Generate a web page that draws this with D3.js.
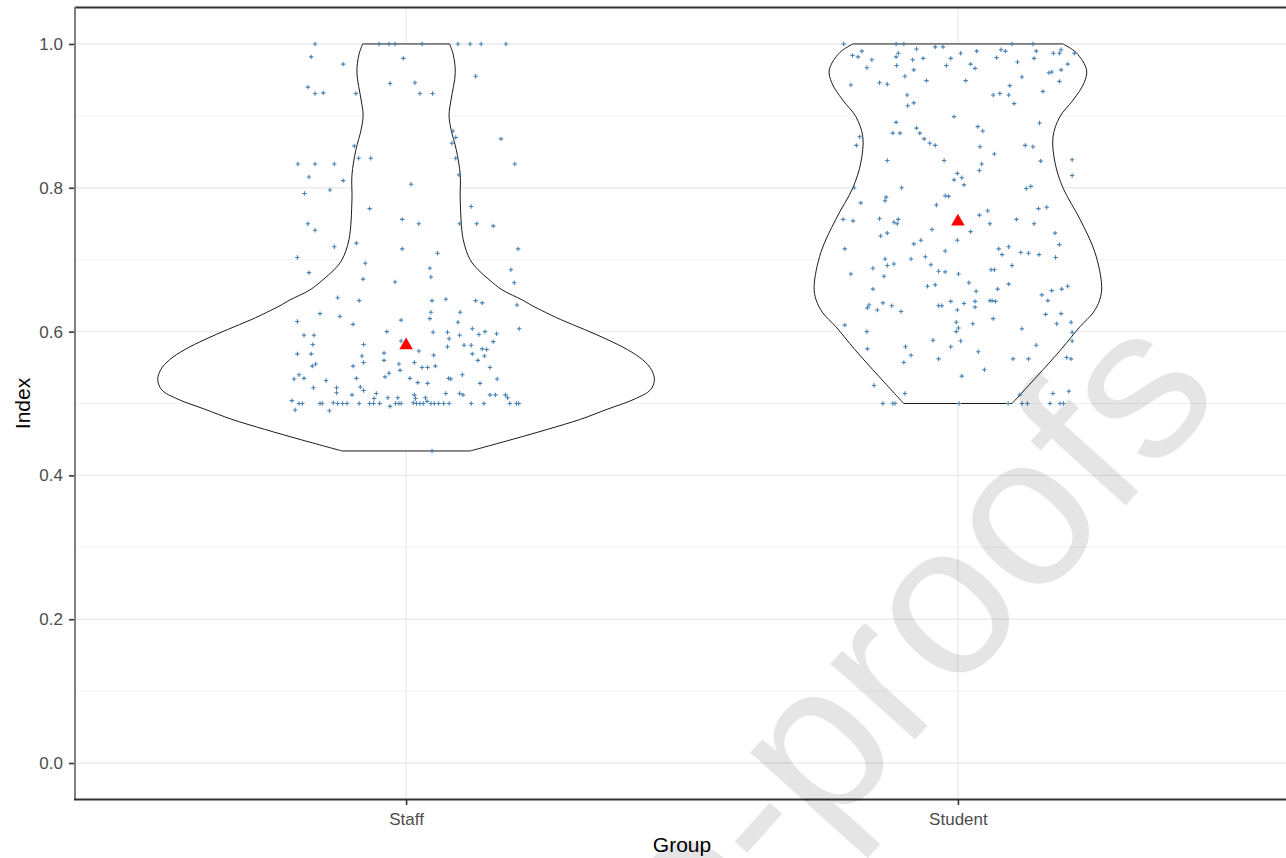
<!DOCTYPE html>
<html lang="en">

<head>
    <meta charset="UTF-8">
    <title>Violin plot</title>
    <script src="https://d3js.org/d3.v7.min.js"></script>
    <style>
        body {
            margin: 0;
            background: #fff;
        }

        svg {
            display: block;
            font-family: "Liberation Sans", Arial, sans-serif;
        }
    </style>
</head>

<body>
    <svg width="1286" height="858"></svg>

    <script>
        // groups on the x axis
        var groups = ["Staff", "Student"];
        var yTicks = [0, 0.2, 0.4, 0.6, 0.8, 1.0];
        var yMinor = [0.1, 0.3, 0.5, 0.7, 0.9];

        // mean of each group (red triangles)
        var groupMeans = [0.581, 0.753];

        // violin outline: [index, relative half width]
        var staffViolin = [
            [0.434, 0.258], [0.450, 0.427], [0.464, 0.569], [0.478, 0.702], [0.492, 0.810],
            [0.506, 0.919], [0.519, 0.984], [0.533, 1.000], [0.547, 0.988], [0.561, 0.952],
            [0.575, 0.891], [0.589, 0.810], [0.603, 0.718], [0.617, 0.621], [0.636, 0.508],
            [0.644, 0.468], [0.658, 0.387], [0.672, 0.335], [0.686, 0.290], [0.700, 0.258],
            [0.728, 0.230], [0.783, 0.218], [0.818, 0.218], [0.853, 0.202], [0.881, 0.181],
            [0.901, 0.173], [0.922, 0.181], [0.960, 0.198], [0.985, 0.190], [1.000, 0.175]
        ];
        var studentViolin = [
            [0.500, 0.218], [0.538, 0.319], [0.575, 0.415], [0.607, 0.492], [0.626, 0.544],
            [0.644, 0.571], [0.663, 0.579], [0.710, 0.552], [0.756, 0.492], [0.800, 0.423],
            [0.835, 0.391], [0.871, 0.383], [0.899, 0.411], [0.922, 0.464], [0.946, 0.508],
            [0.964, 0.518], [0.988, 0.476], [1.000, 0.423]
        ];

        // jittered observations: [jitter offset (in steps), index]
        var staffPoints = [
            [-0.165, 1.0], [-0.049, 1.0], [-0.031, 1.0], [-0.020, 1.0], [0.029, 1.0], [0.094, 1.0],
            [0.116, 1.0], [0.136, 1.0], [0.181, 1.0], [-0.172, 0.982], [-0.114, 0.972], [-0.005, 0.980],
            [-0.178, 0.940], [-0.165, 0.931], [-0.150, 0.932], [-0.091, 0.931], [-0.029, 0.945], [0.016, 0.946],
            [0.025, 0.931], [0.048, 0.931], [0.126, 0.955], [0.085, 0.879], [0.090, 0.870], [0.083, 0.862],
            [0.172, 0.868], [-0.094, 0.858], [-0.086, 0.841], [-0.064, 0.841], [-0.196, 0.833], [-0.165, 0.833],
            [-0.130, 0.833], [0.090, 0.841], [0.197, 0.833], [-0.176, 0.815], [0.096, 0.818], [-0.114, 0.810],
            [0.009, 0.805], [-0.184, 0.792], [-0.138, 0.797], [-0.066, 0.771], [0.118, 0.774], [-0.178, 0.750],
            [-0.165, 0.741], [-0.007, 0.756], [0.023, 0.750], [0.097, 0.750], [0.128, 0.750], [0.158, 0.747],
            [-0.130, 0.718], [-0.090, 0.723], [-0.007, 0.715], [0.057, 0.709], [0.203, 0.715], [-0.197, 0.703],
            [-0.176, 0.682], [-0.074, 0.695], [0.043, 0.688], [0.045, 0.676], [0.190, 0.686], [-0.078, 0.673],
            [-0.020, 0.669], [0.196, 0.668], [-0.124, 0.647], [-0.085, 0.643], [0.047, 0.643], [0.072, 0.645],
            [0.126, 0.643], [0.138, 0.640], [0.201, 0.637], [-0.197, 0.614], [-0.156, 0.625], [-0.120, 0.621],
            [-0.096, 0.610], [-0.009, 0.616], [0.043, 0.618], [0.045, 0.627], [0.098, 0.627], [0.094, 0.613],
            [0.120, 0.604], [0.205, 0.604], [-0.185, 0.595], [-0.167, 0.595], [-0.169, 0.582], [-0.197, 0.569],
            [-0.172, 0.569], [-0.164, 0.555], [-0.170, 0.552], [-0.194, 0.540], [-0.203, 0.534], [-0.185, 0.535],
            [-0.145, 0.532], [-0.168, 0.522], [-0.126, 0.522], [-0.126, 0.515], [-0.207, 0.504], [-0.194, 0.500],
            [-0.188, 0.500], [-0.201, 0.491], [-0.156, 0.500], [-0.152, 0.500], [-0.139, 0.490], [-0.132, 0.501],
            [-0.124, 0.500], [-0.115, 0.500], [-0.107, 0.500], [-0.098, 0.512], [-0.090, 0.535], [-0.096, 0.552],
            [-0.080, 0.566], [-0.077, 0.557], [-0.077, 0.582], [-0.083, 0.523], [-0.077, 0.518], [-0.085, 0.500],
            [-0.066, 0.500], [-0.058, 0.507], [-0.054, 0.514], [-0.059, 0.500], [-0.048, 0.500], [-0.035, 0.600],
            [-0.040, 0.570], [-0.040, 0.560], [-0.038, 0.537], [-0.031, 0.542], [-0.033, 0.508], [-0.029, 0.496],
            [-0.015, 0.508], [-0.019, 0.500], [-0.013, 0.500], [-0.009, 0.500], [-0.013, 0.555], [-0.011, 0.546],
            [0.007, 0.535], [0.015, 0.557], [0.023, 0.573], [-0.009, 0.587], [0.015, 0.512], [0.017, 0.507],
            [0.013, 0.501], [0.019, 0.500], [0.025, 0.500], [0.031, 0.500], [0.035, 0.508], [0.038, 0.503],
            [0.021, 0.529], [0.029, 0.550], [0.039, 0.550], [0.039, 0.528], [0.050, 0.567], [0.053, 0.552],
            [0.045, 0.500], [0.051, 0.500], [0.059, 0.500], [0.068, 0.500], [0.078, 0.500], [0.049, 0.599],
            [0.075, 0.599], [0.078, 0.590], [0.075, 0.579], [0.077, 0.535], [0.081, 0.534], [0.072, 0.514],
            [0.097, 0.514], [0.103, 0.512], [0.097, 0.595], [0.105, 0.581], [0.102, 0.540], [0.118, 0.581],
            [0.120, 0.569], [0.132, 0.596], [0.143, 0.600], [0.138, 0.576], [0.146, 0.575], [0.142, 0.566],
            [0.130, 0.560], [0.152, 0.550], [0.164, 0.597], [0.158, 0.586], [0.134, 0.528], [0.165, 0.534],
            [0.118, 0.500], [0.141, 0.500], [0.152, 0.512], [0.162, 0.512], [0.180, 0.512], [0.184, 0.508],
            [0.188, 0.500], [0.200, 0.500], [0.204, 0.500], [0.047, 0.434]
        ];
        var studentPoints = [
            [-0.207, 1.0], [-0.112, 1.0], [-0.098, 1.0], [-0.041, 0.996], [-0.027, 0.996], [0.098, 1.0],
            [0.136, 1.0], [-0.191, 0.984], [-0.181, 0.982], [-0.174, 0.990], [-0.156, 0.978], [-0.165, 0.967],
            [-0.112, 0.982], [-0.108, 0.987], [-0.111, 0.970], [-0.075, 0.993], [-0.082, 0.978], [-0.063, 0.980],
            [-0.080, 0.964], [-0.096, 0.955], [-0.057, 0.949], [-0.013, 0.980], [0.005, 0.987], [0.034, 0.990],
            [-0.021, 0.970], [0.023, 0.972], [0.031, 0.966], [0.014, 0.949], [0.078, 0.992], [0.086, 0.990],
            [0.070, 0.981], [0.108, 0.975], [0.142, 0.990], [0.138, 0.980], [0.173, 0.987], [0.184, 0.987],
            [0.187, 0.992], [0.211, 0.987], [0.199, 0.972], [0.187, 0.964], [0.165, 0.960], [0.170, 0.961],
            [0.116, 0.954], [0.184, 0.948], [-0.194, 0.943], [-0.142, 0.946], [-0.128, 0.944], [0.094, 0.942],
            [0.154, 0.934], [0.064, 0.929], [0.076, 0.931], [0.092, 0.929], [0.102, 0.917], [-0.092, 0.929],
            [-0.080, 0.918], [-0.091, 0.914], [-0.007, 0.899], [-0.112, 0.891], [-0.118, 0.876], [-0.105, 0.876],
            [-0.075, 0.883], [-0.069, 0.876], [-0.061, 0.868], [-0.051, 0.862], [-0.041, 0.859], [0.036, 0.885],
            [0.045, 0.879], [0.040, 0.857], [0.148, 0.890], [0.122, 0.859], [0.136, 0.857], [-0.178, 0.871],
            [-0.184, 0.859], [-0.128, 0.838], [-0.025, 0.838], [0.066, 0.847], [0.043, 0.833], [0.150, 0.837],
            [0.207, 0.839], [0.207, 0.817], [0.039, 0.824], [-0.001, 0.820], [0.007, 0.814], [-0.007, 0.811],
            [0.011, 0.804], [-0.188, 0.800], [-0.102, 0.800], [-0.130, 0.787], [-0.132, 0.782], [-0.176, 0.779],
            [-0.023, 0.789], [-0.017, 0.788], [-0.039, 0.776], [0.124, 0.799], [0.132, 0.802], [0.146, 0.771],
            [0.161, 0.773], [-0.208, 0.756], [-0.190, 0.754], [-0.142, 0.757], [-0.116, 0.752], [-0.110, 0.750],
            [-0.108, 0.756], [-0.140, 0.733], [-0.128, 0.737], [-0.047, 0.742], [0.039, 0.762], [0.054, 0.768],
            [0.058, 0.750], [0.106, 0.756], [0.138, 0.750], [0.023, 0.739], [-0.001, 0.727], [-0.067, 0.727],
            [-0.080, 0.722], [0.176, 0.737], [0.184, 0.721], [-0.205, 0.715], [-0.023, 0.712], [0.074, 0.715],
            [0.080, 0.707], [0.092, 0.718], [0.114, 0.710], [0.128, 0.709], [0.147, 0.707], [0.177, 0.703],
            [-0.132, 0.701], [-0.128, 0.692], [-0.116, 0.694], [-0.085, 0.701], [-0.059, 0.704], [-0.049, 0.693],
            [-0.154, 0.688], [-0.035, 0.684], [-0.023, 0.683], [0.001, 0.680], [0.060, 0.686], [0.066, 0.686],
            [0.098, 0.692], [-0.194, 0.680], [-0.134, 0.677], [0.020, 0.668], [0.092, 0.666], [-0.055, 0.663],
            [-0.041, 0.665], [0.033, 0.656], [0.072, 0.659], [-0.154, 0.659], [0.170, 0.657], [0.188, 0.659],
            [0.199, 0.663], [0.152, 0.651], [0.163, 0.643], [-0.161, 0.637], [-0.164, 0.633], [-0.136, 0.640],
            [-0.146, 0.630], [-0.120, 0.636], [-0.103, 0.628], [-0.035, 0.636], [-0.029, 0.636], [-0.013, 0.642],
            [0.011, 0.639], [0.031, 0.642], [0.031, 0.634], [0.058, 0.643], [0.062, 0.643], [0.068, 0.642],
            [-0.001, 0.630], [0.159, 0.624], [0.187, 0.625], [0.064, 0.618], [-0.205, 0.609], [-0.165, 0.600],
            [-0.164, 0.576], [-0.003, 0.613], [0.001, 0.605], [-0.003, 0.600], [0.027, 0.611], [0.116, 0.604],
            [0.179, 0.611], [0.205, 0.613], [0.207, 0.599], [0.207, 0.587], [-0.045, 0.588], [0.005, 0.587],
            [-0.013, 0.579], [-0.095, 0.579], [-0.085, 0.567], [0.037, 0.572], [0.142, 0.581], [-0.035, 0.562],
            [0.100, 0.562], [0.128, 0.562], [-0.098, 0.557], [0.197, 0.564], [0.205, 0.562], [0.048, 0.547],
            [0.007, 0.538], [-0.152, 0.525], [-0.096, 0.514], [0.112, 0.512], [0.172, 0.514], [0.201, 0.517],
            [-0.136, 0.500], [-0.118, 0.500], [-0.114, 0.500], [0.002, 0.500], [0.091, 0.500], [0.116, 0.500],
            [0.126, 0.500], [0.167, 0.500], [0.185, 0.500], [0.191, 0.500]
        ];

        var violins = [staffViolin, studentViolin];
        var points = [staffPoints, studentPoints];

        var svg = d3.select("svg");
        var pLeft = 75, pTop = 8, pBottom = 799, pRight = 1289;

        var xScale = d3.scalePoint()
            .domain(groups)
            .range([pLeft, pRight])
            .padding(0.6);
        var step = xScale.step();

        var yScale = d3.scaleLinear()
            .domain([-0.05, 1.05])
            .range([pBottom, pTop]);

        // violin half width: widest violin = 0.45 of a step
        var wScale = d3.scaleLinear()
            .domain([0, 1])
            .range([0, 0.45 * step]);

        // grid
        var grid = svg.append("g");
        grid.selectAll(".minor")
            .data(yMinor)
            .join("line")
            .attr("x1", pLeft).attr("x2", pRight)
            .attr("y1", d => yScale(d)).attr("y2", d => yScale(d))
            .style("stroke", "#ebebeb")
            .style("stroke-width", 0.7);
        grid.selectAll(".major")
            .data(yTicks)
            .join("line")
            .attr("x1", pLeft).attr("x2", pRight)
            .attr("y1", d => yScale(d)).attr("y2", d => yScale(d))
            .style("stroke", "#ebebeb")
            .style("stroke-width", 1.4);
        grid.selectAll(".vmajor")
            .data(groups)
            .join("line")
            .attr("x1", d => xScale(d)).attr("x2", d => xScale(d))
            .attr("y1", pTop).attr("y2", pBottom)
            .style("stroke", "#ebebeb")
            .style("stroke-width", 1.4);

        // violins
        groups.forEach(function (g, i) {
            var cx = xScale(g);
            var area = d3.area()
                .y(d => yScale(d[0]))
                .x0(d => cx - wScale(d[1]))
                .x1(d => cx + wScale(d[1]))
                .curve(d3.curveCatmullRom);
            svg.append("path")
                .datum(violins[i])
                .attr("d", area)
                .style("fill", "white")
                .style("stroke", "#1a1a1a")
                .style("stroke-width", 1);
        });

        // jittered points (plus shape)
        groups.forEach(function (g, i) {
            var cx = xScale(g);
            svg.append("g")
                .selectAll("path")
                .data(points[i])
                .join("path")
                .attr("transform", d => "translate(" + (cx + d[0] * step) + "," + yScale(d[1]) + ")")
                .attr("d", "M-2.2,0H2.2M0,-2.2V2.2")
                .style("stroke", "steelblue")
                .style("stroke-width", 1.1);
        });

        // means
        svg.append("g")
            .selectAll("path")
            .data(groupMeans)
            .join("path")
            .attr("transform", (d, i) => "translate(" + xScale(groups[i]) + "," + yScale(d) + ")")
            .attr("d", d3.symbol(d3.symbolTriangle, 80))
            .style("fill", "red");

        // axes
        var yAxis = svg.append("g")
            .attr("transform", "translate(" + pLeft + ",0)")
            .call(d3.axisLeft(yScale).tickValues(yTicks).tickFormat(d3.format(".1f")).tickSize(6).tickPadding(6));
        yAxis.select(".domain").remove();
        yAxis.selectAll("line").style("stroke", "#333").style("stroke-width", 1.6);
        yAxis.selectAll("text").style("font-size", "17px").style("fill", "#4d4d4d")
            .style("font-family", "Liberation Sans, Arial, sans-serif");

        var xAxis = svg.append("g")
            .attr("transform", "translate(0," + pBottom + ")")
            .call(d3.axisBottom(xScale).tickSize(6).tickPadding(8));
        xAxis.select(".domain").remove();
        xAxis.selectAll("line").style("stroke", "#333").style("stroke-width", 1.6);
        xAxis.selectAll("text").style("font-size", "17px").style("fill", "#4d4d4d")
            .style("font-family", "Liberation Sans, Arial, sans-serif");

        // panel border
        svg.append("line")
            .attr("x1", pLeft).attr("x2", pRight).attr("y1", pTop - 0.5).attr("y2", pTop - 0.5)
            .style("stroke", "#333").style("stroke-width", 2);
        svg.append("line")
            .attr("x1", pLeft).attr("x2", pLeft).attr("y1", pTop - 1).attr("y2", pBottom + 1)
            .style("stroke", "#808080").style("stroke-width", 2);
        svg.append("line")
            .attr("x1", pLeft - 1).attr("x2", pRight).attr("y1", pBottom + 0.5).attr("y2", pBottom + 0.5)
            .style("stroke", "#333").style("stroke-width", 2.2);

        // axis titles
        svg.append("text")
            .attr("x", (pLeft + pRight) / 2)
            .attr("y", 852)
            .attr("text-anchor", "middle")
            .style("font-size", "21px")
            .text("Group");
        svg.append("text")
            .attr("transform", "translate(30," + ((pTop + pBottom) / 2) + ") rotate(-90)")
            .attr("text-anchor", "middle")
            .style("font-size", "21px")
            .text("Index");

        // watermark
        svg.append("text")
            .attr("transform", "translate(905,638) rotate(-48)")
            .attr("text-anchor", "middle")
            .attr("dy", "0.35em")
            .style("font-size", "215px")
            .style("fill", "#000")
            .style("fill-opacity", 0.1)
            .text("e-proofs");
    </script>
</body>

</html>
